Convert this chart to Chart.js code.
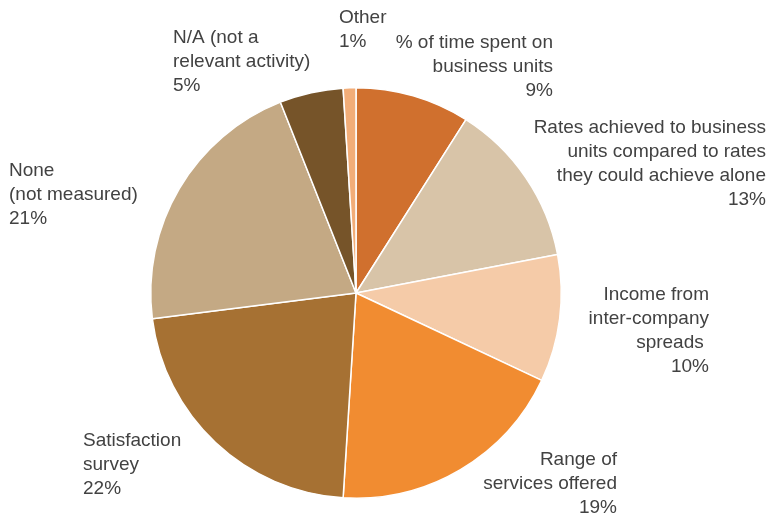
<!DOCTYPE html>
<html>
<head>
<meta charset="utf-8">
<script src="https://cdn.jsdelivr.net/npm/chart.js@4/dist/chart.umd.min.js"></script>
<style>
	html, body { margin: 0; padding: 0; background: #fff; }
	#wrap { width: 768px; height: 518px; position: relative; }
</style>
</head>
<body>
<div id="wrap"><canvas id="measure-chart"></canvas></div>
<script>
// how the treasury's performance is measured
const categories = [
	["% of time spent on", "business units"],
	["Rates achieved to business", "units compared to rates", "they could achieve alone"],
	["Income from", "inter-company", "spreads "],
	["Range of", "services offered"],
	["Satisfaction", "survey"],
	["None", "(not measured)"],
	["N/A (not a", "relevant activity)"],
	["Other"],
];

const shares = [9, 13, 10, 19, 22, 21, 5, 1];

const sliceColors = [
	"#D0702E",
	"#D8C4A8",
	"#F5CBA8",
	"#F18C31",
	"#A67133",
	"#C4A984",
	"#765429",
	"#F2AD78",
];

// where each slice's text block sits, and which side it lines up on
const labelSpots = [
	{ x: 553, y: 43, align: "right" },
	{ x: 766, y: 128, align: "right" },
	{ x: 709, y: 295, align: "right" },
	{ x: 617, y: 460, align: "right" },
	{ x: 83, y: 441, align: "left" },
	{ x: 9, y: 171, align: "left" },
	{ x: 173, y: 38, align: "left" },
	{ x: 339, y: 18, align: "left" },
];

const sliceLabels = {
	id: "sliceLabels",
	afterDatasetsDraw(chart) {
		const ctx = chart.ctx;
		const data = chart.data.datasets[0].data;
		ctx.save();
		ctx.fillStyle = "#424242";
		ctx.font = "19px 'Liberation Sans', Arial, sans-serif";
		ctx.textBaseline = "middle";
		chart.data.labels.forEach((lines, i) => {
			const spot = labelSpots[i];
			const all = lines.concat([data[i] + "%"]);
			ctx.textAlign = spot.align;
			all.forEach((line, j) => {
				ctx.fillText(line, spot.x, spot.y + j * 24);
			});
		});
		ctx.restore();
	},
};

const measureCanvas = document.getElementById("measure-chart");

const measureChart = new Chart(measureCanvas, {
	type: "pie",
	data: {
		labels: categories,
		datasets: [
			{
				data: shares,
				backgroundColor: sliceColors,
				borderColor: "#ffffff",
				borderWidth: 1.5,
			},
		],
	},
	options: {
		responsive: true,
		maintainAspectRatio: false,
		animation: false,
		layout: {
			padding: { top: 87, bottom: 19, left: 150, right: 206 },
		},
		plugins: {
			legend: { display: false },
			tooltip: { enabled: false },
		},
	},
	plugins: [sliceLabels],
});
</script>
</body>
</html>
